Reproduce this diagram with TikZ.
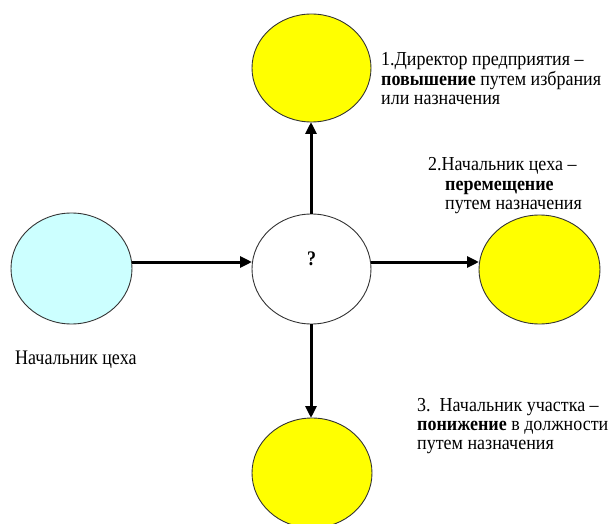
\documentclass[tikz,border=0pt]{standalone}
\usepackage{fontspec}
\setmainfont{Liberation Serif}
\usetikzlibrary{arrows.meta}
\definecolor{lightcyan}{HTML}{CCFFFF}
\definecolor{pureyellow}{HTML}{FFFF00}
\newcommand{\tallblock}[1]{\scalebox{1}[1.1]{\begin{tabular}[t]{@{}l@{}}#1\end{tabular}}}
\begin{document}
\begin{tikzpicture}[x=1pt,y=-1pt,
  circ/.style={draw=black!80, line width=0.9pt},
  conn/.style={line width=3pt, -{Triangle[length=12pt,width=11pt]}},
  lbl/.style={font=\fontsize{18}{17.3}\selectfont, inner sep=0pt, anchor=base west}]
\useasboundingbox (0,0) rectangle (616,524);
\path[circ, fill=pureyellow] (311.5,68) ellipse [x radius=59.5, y radius=54];
\path[circ, fill=lightcyan] (71.5,268.5) ellipse [x radius=60.5, y radius=55.5];
\path[circ, fill=white] (311.5,269) ellipse [x radius=59.5, y radius=55];
\path[circ, fill=pureyellow] (539.5,269.5) ellipse [x radius=60.5, y radius=54.5];
\path[circ, fill=pureyellow] (312,473) ellipse [x radius=60, y radius=55];
\coordinate (lE) at (132,262);
\coordinate (cW) at (252,262);
\coordinate (cE) at (371,262);
\coordinate (rW) at (479,262);
\coordinate (cN) at (311,214);
\coordinate (tS) at (311,122);
\coordinate (cS) at (311,324);
\coordinate (bN) at (311,418);
\draw[conn] (lE) -- (cW);
\draw[conn] (cE) -- (rW);
\draw[conn] (cN) -- (tS);
\draw[conn] (cS) -- (bN);
\node[lbl, anchor=base, font=\fontsize{18}{20}\selectfont\bfseries] (q) at (311.5,265) {\scalebox{1}[1.15]{?}};
\node[lbl] (t1) at (381,66) {\tallblock{1.Директор предприятия –\\\textbf{повышение} путем избрания\\или назначения}};
\node[lbl] (t2) at (428,171) {\tallblock{2.Начальник цеха –\\\hspace*{17pt}\textbf{перемещение}\\\hspace*{17pt}путем назначения}};
\node[lbl] (t3) at (417,411) {\tallblock{3.\ \ Начальник участка –\\\textbf{понижение} в должности\\путем назначения}};
\node[lbl] (t4) at (15,364) {\scalebox{1}[1.15]{Начальник цеха}};
\end{tikzpicture}
\end{document}
